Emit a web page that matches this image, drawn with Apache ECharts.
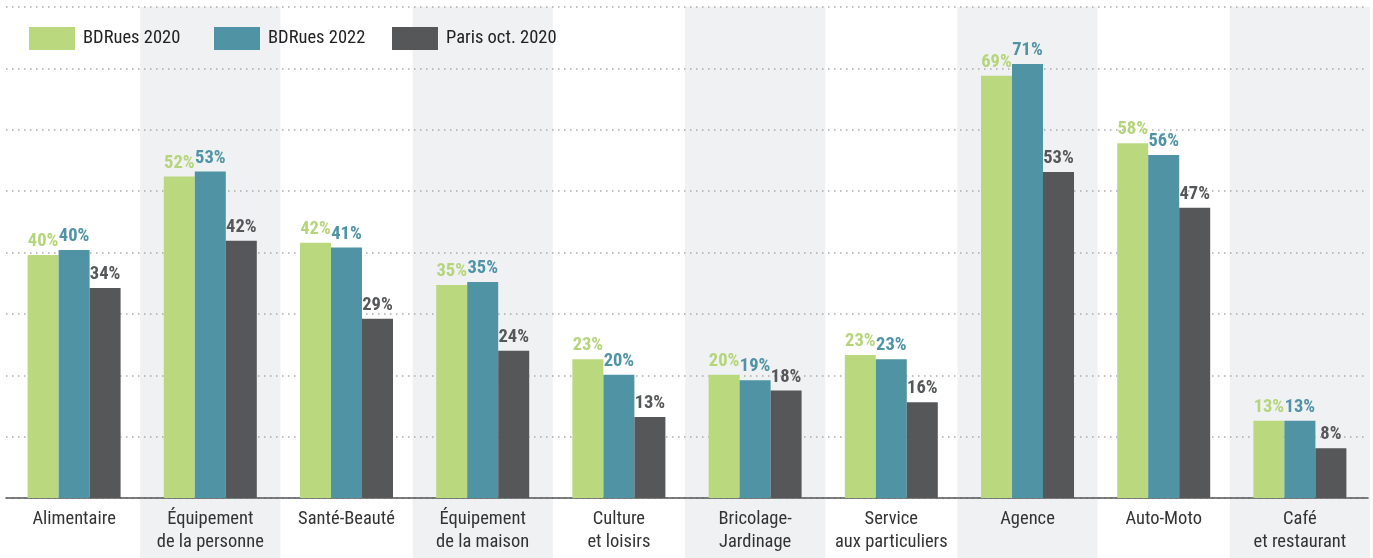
<!DOCTYPE html>
<html><head><meta charset="utf-8">
<script src="https://cdn.jsdelivr.net/npm/echarts@6/dist/echarts.min.js"></script>
<style>html,body{margin:0;padding:0;background:#fff}#c{width:1373px;height:558px}</style>
</head><body><div id="c"></div>
<script>
const categories = ['Alimentaire','Équipement\nde la personne','Santé-Beauté','Équipement\nde la maison','Culture\net loisirs','Bricolage-\nJardinage','Service\naux particuliers','Agence','Auto-Moto','Café\net restaurant'];
const seriesNames = ['BDRues 2020','BDRues 2022','Paris oct. 2020'];
const bdrues2020 = [39.6, 52.4, 41.6, 34.7, 22.6, 20.1, 23.3, 68.8, 57.8, 12.6];
const bdrues2022 = [40.4, 53.2, 40.8, 35.2, 20.1, 19.2, 22.6, 70.7, 55.9, 12.6];
const paris2020  = [34.2, 41.9, 29.2, 24.0, 13.2, 17.5, 15.6, 53.1, 47.3, 8.1];
const shadedIdx = [1, 3, 5, 7, 9];

const FONT = '"Roboto Condensed","Liberation Sans Narrow","DejaVu Sans Condensed",Roboto,sans-serif';
const colors = ['#bad87e', '#4f93a4', '#555759'];
const labelColors = ['#b5d57a', '#4f93a4', '#555759'];

const chart = echarts.init(document.getElementById('c'), null, {renderer: 'canvas'});
const vals = [bdrues2020, bdrues2022, paris2020];

const barSeries = seriesNames.map((n, i) => ({
  name: n, type: 'bar', data: vals[i], barWidth: 31, barGap: '0%',
  itemStyle: {color: colors[i]},
  label: {show: true, position: 'top', distance: 4, color: labelColors[i],
    fontFamily: FONT, fontWeight: 'bold', fontSize: 18.5,
    formatter: p => Math.round(p.value) + '%'}
}));

const legendLeft = [29, 214, 392];
chart.setOption({
  animation: false,
  textStyle: {fontFamily: FONT},
  grid: {left: 6, right: 5, top: 7, bottom: 60},
  legend: seriesNames.map((n, i) => ({
    data: [n], left: legendLeft[i], top: 27, padding: 0, itemWidth: 46, itemHeight: 23, icon: 'rect',
    itemGap: 0, textStyle: {fontFamily: FONT, fontSize: 18.5, color: '#222', padding: [0,0,0,3]}
  })),
  xAxis: {type: 'category', data: categories,
    axisLine: {lineStyle: {color: '#555', width: 1.5}}, axisTick: {show: false},
    axisLabel: {interval: 0, fontFamily: FONT, fontSize: 18.5, lineHeight: 23, color: '#333', margin: 10}},
  yAxis: {type: 'value', min: 0, max: 80, interval: 10,
    axisLabel: {show: false}, axisLine: {show: false}, axisTick: {show: false},
    splitLine: {lineStyle: {color: '#aaa', type: [1.5, 4.5], width: 1.5}}},
  series: [{
    type: 'custom', silent: true, z: -10,
    data: shadedIdx.map(i => [i, 80]),
    renderItem: (params, api) => {
      const top = api.coord([api.value(0), 80]);
      const w = api.size([1, 0])[0] + 4;
      return {type: 'rect', shape: {x: top[0] - w / 2, y: top[1], width: w, height: api.getHeight() - top[1]},
        style: {fill: '#f0f1f3'}};
    },
    clip: false
  }].concat(barSeries)
});
</script></body></html>
